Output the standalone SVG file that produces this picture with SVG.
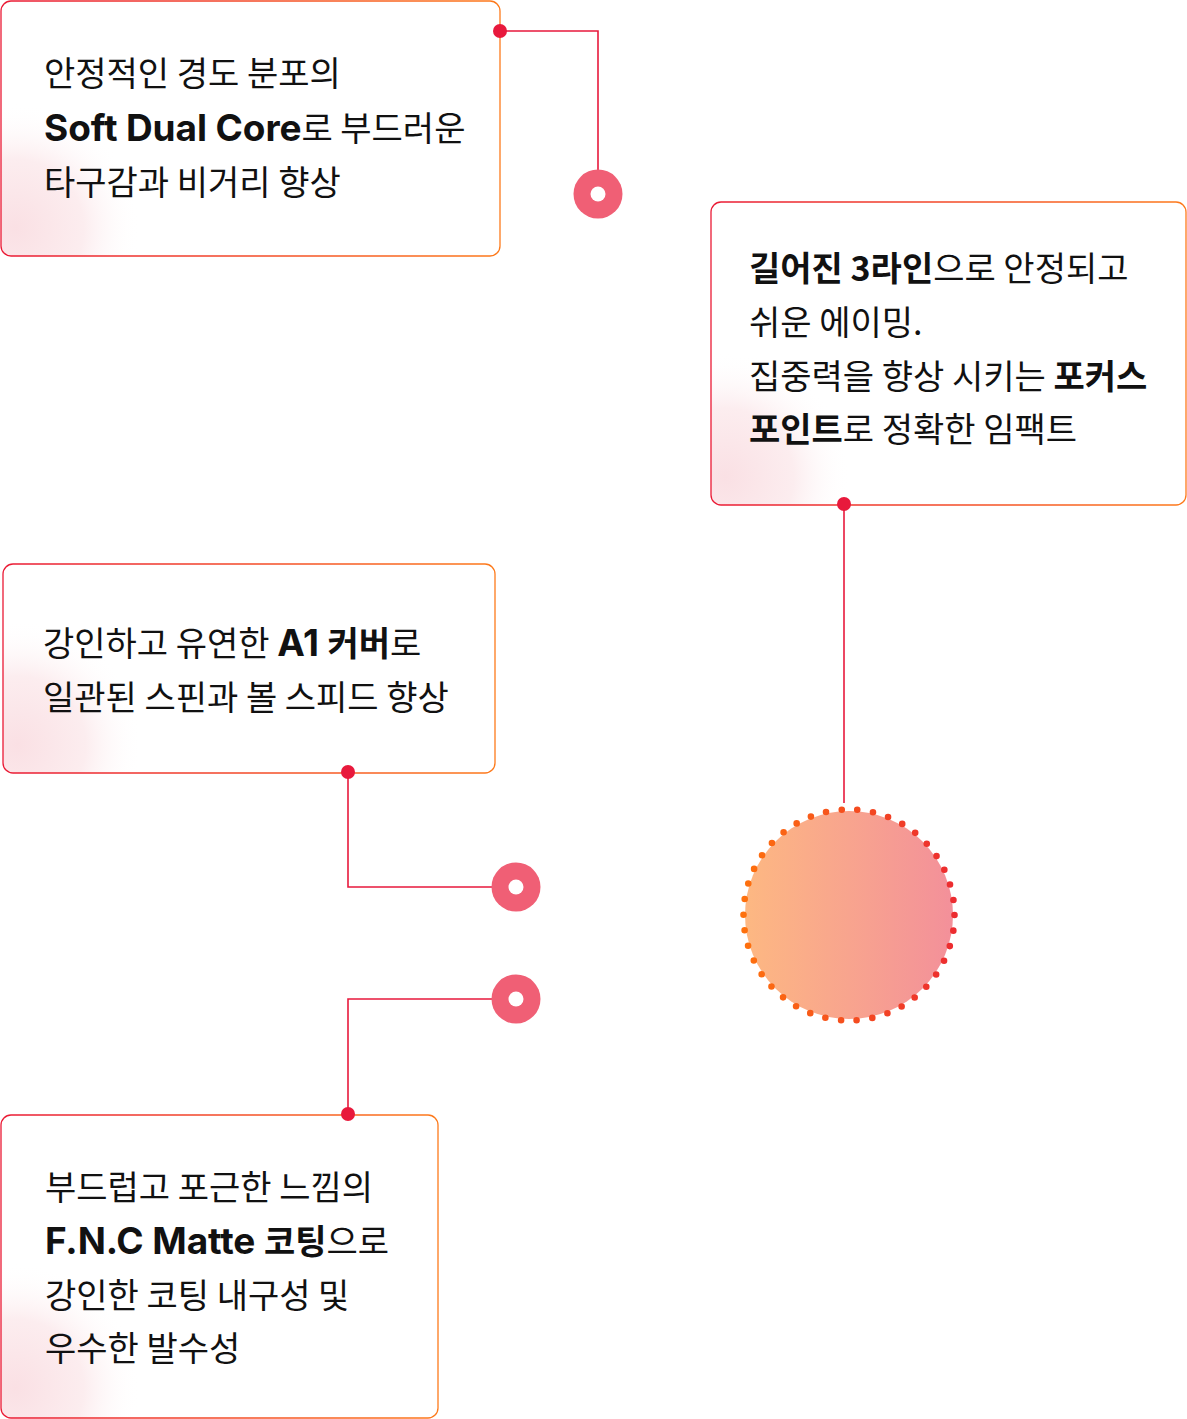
<svg xmlns="http://www.w3.org/2000/svg" width="1187" height="1419" viewBox="0 0 1187 1419">
<defs>
<linearGradient id="border" x1="0" y1="0" x2="1" y2="0">
<stop offset="0" stop-color="#ea1a35"/>
<stop offset="1" stop-color="#fd7a1b"/>
</linearGradient>
<radialGradient id="glow1" gradientUnits="userSpaceOnUse" cx="15" cy="228" r="125">
<stop offset="0" stop-color="#fae0e4"/>
<stop offset="0.55" stop-color="#fcedef"/>
<stop offset="1" stop-color="#ffffff" stop-opacity="0"/>
</radialGradient>
<radialGradient id="glow2" gradientUnits="userSpaceOnUse" cx="725" cy="477" r="125">
<stop offset="0" stop-color="#fae0e4"/>
<stop offset="0.55" stop-color="#fcedef"/>
<stop offset="1" stop-color="#ffffff" stop-opacity="0"/>
</radialGradient>
<radialGradient id="glow3" gradientUnits="userSpaceOnUse" cx="17" cy="745" r="125">
<stop offset="0" stop-color="#fae0e4"/>
<stop offset="0.55" stop-color="#fcedef"/>
<stop offset="1" stop-color="#ffffff" stop-opacity="0"/>
</radialGradient>
<radialGradient id="glow4" gradientUnits="userSpaceOnUse" cx="15" cy="1388" r="125">
<stop offset="0" stop-color="#fae0e4"/>
<stop offset="0.55" stop-color="#fcedef"/>
<stop offset="1" stop-color="#ffffff" stop-opacity="0"/>
</radialGradient>
<linearGradient id="ballFill" x1="0" y1="0" x2="1" y2="0">
<stop offset="0" stop-color="#fdb882"/>
<stop offset="1" stop-color="#f3909a"/>
</linearGradient>
<linearGradient id="ballDots" gradientUnits="userSpaceOnUse" x1="742" y1="0" x2="956" y2="0">
<stop offset="0" stop-color="#fe710d"/>
<stop offset="1" stop-color="#ec2b30"/>
</linearGradient>
</defs>
<style>
.box{stroke:url(#border);stroke-width:1.3}
.t{font-family:"Noto Sans CJK KR","Noto Sans",sans-serif;font-size:34px;fill:#111}
.b{font-family:Inter,"Noto Sans CJK KR",sans-serif;font-weight:700;font-size:37px;letter-spacing:-0.1px}
.bk{font-weight:700}
.line{fill:none;stroke:#e8193c;stroke-width:1.6}
.pin{fill:#e8193c}
.target{fill:#f05f75}
.hole{fill:#fff}
</style>
<rect width="1187" height="1419" fill="#fff"/>

<g id="connectors">
<polyline class="line" points="500,31 598,31 598,175"/>
<line class="line" x1="844" y1="504" x2="844" y2="803"/>
<polyline class="line" points="348,772 348,887 495,887"/>
<polyline class="line" points="348,1114 348,999 495,999"/>
</g>

<g id="node-soft-dual-core">
<rect x="1" y="1" width="499" height="255" rx="10" fill="#fff"/>
<rect x="1" y="1" width="499" height="255" rx="10" fill="url(#glow1)"/>
<rect class="box" x="1" y="1" width="499" height="255" rx="10" fill="none"/>
<text class="t" x="44" y="86">안정적인 경도 분포의</text>
<text class="t" x="44" y="141"><tspan class="b">Soft Dual Core</tspan>로 부드러운</text>
<text class="t" x="44" y="195">타구감과 비거리 향상</text>
<circle class="pin" cx="500" cy="31" r="7"/>
</g>

<g id="node-3line">
<rect x="711" y="202" width="475" height="303" rx="10" fill="#fff"/>
<rect x="711" y="202" width="475" height="303" rx="10" fill="url(#glow2)"/>
<rect class="box" x="711" y="202" width="475" height="303" rx="10" fill="none"/>
<text class="t" x="749" y="281"><tspan class="bk">길어진 3라인</tspan>으로 안정되고</text>
<text class="t" x="749" y="335">쉬운 에이밍.</text>
<text class="t" x="749" y="389">집중력을 향상 시키는 <tspan class="bk">포커스</tspan></text>
<text class="t" x="749" y="442"><tspan class="bk">포인트</tspan>로 정확한 임팩트</text>
<circle class="pin" cx="844" cy="504" r="7"/>
</g>

<g id="node-a1-cover">
<rect x="3" y="564" width="492" height="209" rx="10" fill="#fff"/>
<rect x="3" y="564" width="492" height="209" rx="10" fill="url(#glow3)"/>
<rect class="box" x="3" y="564" width="492" height="209" rx="10" fill="none"/>
<text class="t" x="43" y="656">강인하고 유연한 <tspan class="b">A1 </tspan><tspan class="bk">커버</tspan>로</text>
<text class="t" x="43" y="710">일관된 스핀과 볼 스피드 향상</text>
<circle class="pin" cx="348" cy="772" r="7"/>
</g>

<g id="node-fnc-matte">
<rect x="1" y="1115" width="437" height="303" rx="10" fill="#fff"/>
<rect x="1" y="1115" width="437" height="303" rx="10" fill="url(#glow4)"/>
<rect class="box" x="1" y="1115" width="437" height="303" rx="10" fill="none"/>
<text class="t" x="45" y="1200">부드럽고 포근한 느낌의</text>
<text class="t" x="45" y="1254"><tspan class="b">F.N.C Matte </tspan><tspan class="bk">코팅</tspan>으로</text>
<text class="t" x="45" y="1308">강인한 코팅 내구성 및</text>
<text class="t" x="45" y="1361">우수한 발수성</text>
<circle class="pin" cx="348" cy="1114" r="7"/>
</g>

<g id="target-1">
<circle class="target" cx="598" cy="194" r="24.5"/>
<circle class="hole" cx="598" cy="194" r="7.5"/>
</g>
<g id="target-2">
<circle class="target" cx="516" cy="887" r="24.5"/>
<circle class="hole" cx="516" cy="887" r="7.5"/>
</g>
<g id="target-3">
<circle class="target" cx="516" cy="999" r="24.5"/>
<circle class="hole" cx="516" cy="999" r="7.5"/>
</g>

<g id="ball">
<circle cx="849" cy="915" r="104" fill="url(#ballFill)"/>
<circle cx="849" cy="915" r="105.5" fill="none" stroke="url(#ballDots)" stroke-width="6.6" stroke-linecap="round" stroke-dasharray="0 15.783"/>
</g>
</svg>
